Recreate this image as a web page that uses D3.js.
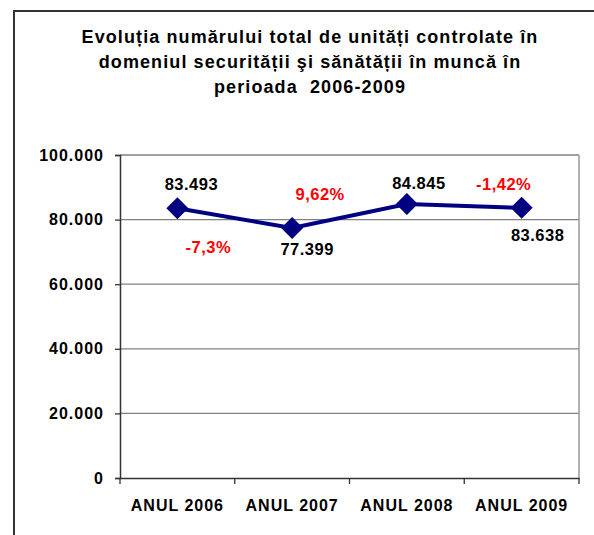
<!DOCTYPE html>
<html><head><meta charset="utf-8">
<script src="https://cdn.jsdelivr.net/npm/d3@7"></script>
<style>body{margin:0;background:#fff}svg{display:block}text{font-family:"Liberation Sans",Arial,sans-serif;font-weight:bold}</style>
</head><body><svg id="c" width="594" height="535"></svg>
<script>
const titleLines = ["Evoluția numărului total de unități controlate în","domeniul securității şi sănătății în muncă în","perioada  2006-2009"];
const categories = ["ANUL 2006","ANUL 2007","ANUL 2008","ANUL 2009"];
const values = [83493, 77399, 84845, 83638];
const valueLabels = ["83.493","77.399","84.845","83.638"];
const changeLabels = ["-7,3%","9,62%","-1,42%"];
const yTicks = [0,20000,40000,60000,80000,100000];
const yTickLabels = ["0","20.000","40.000","60.000","80.000","100.000"];

// style / layout offsets
const valueOffsets = [[14,-24],[15,21],[12,-21],[16,27]];
const changeAnchors = [[0,31,39],[1,28,-34],[3,-18,-24]]; // [point index, dx, dy]

const svg = d3.select("#c");
svg.append("rect").attr("x",14).attr("y",11).attr("width",600).attr("height",600)
  .attr("fill","none").attr("stroke","#333").attr("stroke-width",2);

svg.append("g").selectAll("text").data(titleLines).join("text")
  .attr("x",310).attr("y",(d,i)=>43+i*25).attr("text-anchor","middle")
  .attr("font-size",18).attr("letter-spacing","1.1px").style("white-space","pre")
  .attr("fill","#000").text(d=>d);

const L=120,R=579,T=155,B=478;
const x = d3.scaleBand().domain(categories).range([L,R]);
const y = d3.scaleLinear().domain([0,100000]).range([B,T]);

// gridlines
svg.append("g").selectAll("line").data(yTicks.filter(v=>v>0)).join("line")
  .attr("x1",L).attr("x2",R).attr("y1",d=>y(d)).attr("y2",d=>y(d))
  .attr("stroke","#808080").attr("stroke-width",1.3);
svg.append("line").attr("x1",R).attr("x2",R).attr("y1",T).attr("y2",B)
  .attr("stroke","#999").attr("stroke-width",1.5);

// y axis
const yAxis = d3.axisLeft(y).tickValues(yTicks).tickSize(5).tickPadding(11)
  .tickFormat((d,i)=>yTickLabels[i]);
const gy = svg.append("g").attr("transform",`translate(${L},0)`).call(yAxis);
gy.select(".domain").attr("stroke","#333").attr("stroke-width",1.5);
gy.selectAll(".tick line").attr("stroke","#333").attr("stroke-width",1.3);
gy.selectAll(".tick text").attr("font-size",16).attr("letter-spacing","1px")
  .attr("fill","#000").attr("font-family","Liberation Sans, Arial, sans-serif").attr("font-weight","bold");

// x axis
const xAxis = d3.axisBottom(x).tickSize(0).tickPadding(22);
const gx = svg.append("g").attr("transform",`translate(0,${B})`).call(xAxis);
gx.select(".domain").attr("stroke","#333").attr("stroke-width",1.5);
gx.selectAll(".tick text").attr("font-size",16).attr("letter-spacing","1px")
  .attr("fill","#000").attr("font-family","Liberation Sans, Arial, sans-serif").attr("font-weight","bold");
// category boundary ticks
const bounds = categories.map(c=>x(c)).concat([x(categories[categories.length-1])+x.bandwidth()]);
svg.append("g").selectAll("line").data(bounds).join("line")
  .attr("x1",d=>d).attr("x2",d=>d).attr("y1",B).attr("y2",B+6)
  .attr("stroke","#333").attr("stroke-width",1.3);

const cx = i => x(categories[i]) + x.bandwidth()/2;

// line
svg.append("path").datum(values)
  .attr("d", d3.line().x((d,i)=>cx(i)).y(d=>y(d)))
  .attr("fill","none").attr("stroke","#000080").attr("stroke-width",4);
svg.append("g").selectAll("path").data(values).join("path")
  .attr("transform",(d,i)=>`translate(${cx(i)},${y(d)})`)
  .attr("d","M0,-11L11,0L0,11L-11,0Z").attr("fill","#000080");

// value labels
svg.append("g").selectAll("text").data(valueLabels).join("text")
  .attr("x",(d,i)=>cx(i)+valueOffsets[i][0]).attr("y",(d,i)=>y(values[i])+valueOffsets[i][1])
  .attr("dy","0.35em").attr("text-anchor","middle").attr("font-size",16.5).attr("letter-spacing","0.5px")
  .attr("fill","#000").text(d=>d);

// change labels
svg.append("g").selectAll("text").data(changeLabels).join("text")
  .attr("x",(d,i)=>cx(changeAnchors[i][0])+changeAnchors[i][1])
  .attr("y",(d,i)=>y(values[changeAnchors[i][0]])+changeAnchors[i][2])
  .attr("dy","0.35em").attr("text-anchor","middle").attr("font-size",16.5).attr("letter-spacing","0.5px")
  .attr("fill","#ff0000").text(d=>d);
</script></body></html>
